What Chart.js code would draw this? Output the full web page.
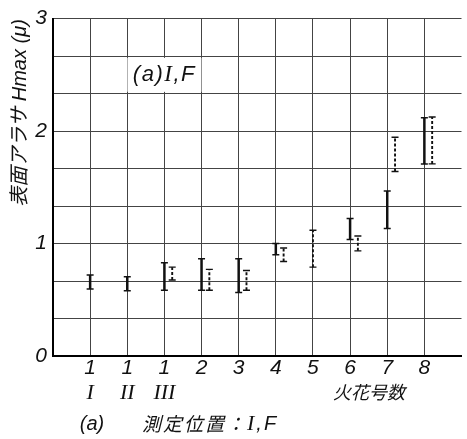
<!DOCTYPE html>
<html>
<head>
<meta charset="utf-8">
<script src="https://cdn.jsdelivr.net/npm/chart.js@4/dist/chart.umd.min.js"></script>
<style>
  html, body { margin: 0; padding: 0; background: #fff; }
  canvas { display: block; }
</style>
</head>
<body>
<canvas id="c" width="467" height="439"></canvas>
<script>
// Spark number categories and measuring position (second label line)
const sparkNumbers = ['1', '1', '1', '2', '3', '4', '5', '6', '7', '8'];
const positions    = ['I', 'II', 'III', '', '', '', '', '', '', ''];

// Hmax range (μ) — solid bars
const solidLow  = [0.595, 0.58, 0.585, 0.585, 0.565, 0.90, null, 1.035, 1.133, 1.708];
const solidHigh = [0.72, 0.705, 0.83, 0.864, 0.864, 1.00, null, 1.222, 1.466, 2.119];

// Hmax range (μ) — dashed bars
const dashLow  = [null, null, 0.676, 0.585, 0.585, 0.84, 0.79, 0.935, 1.64, 1.708];
const dashHigh = [null, null, 0.79, 0.77, 0.76, 0.96, 1.118, 1.067, 1.945, 2.125];

// Labelled values on the Hmax axis
const yTickLabels = ['0', '1', '2', '3'];

const DASH_SHIFT = 0.21;   // dashed bar sits just right of its solid partner
const SANS = "'Liberation Sans',sans-serif";
const SERIF = "'Liberation Serif','DejaVu Serif',serif";
const CJK = "'Noto Sans CJK JP',sans-serif";

// Turn low/high pairs into vertical segments separated by gaps
function rangeSegments(low, high, shift) {
  const pts = [];
  low.forEach((lo, i) => {
    if (lo == null) return;
    const x = i + 1 + shift(i);
    pts.push({ x, y: lo }, { x, y: high[i] }, { x, y: null });
  });
  return pts;
}

const solidData = rangeSegments(solidLow, solidHigh, () => 0);
const dashData  = rangeSegments(dashLow, dashHigh, i => (solidLow[i] == null ? 0 : DASH_SHIFT));

// Draw a run of text pieces, each with its own font, starting at x
function drawRuns(ctx, runs, x, y) {
  runs.forEach(([text, font]) => {
    ctx.font = font;
    ctx.fillText(text, x, y);
    x += ctx.measureText(text).width;
  });
  return x;
}
function runsWidth(ctx, runs) {
  return runs.reduce((w, [text, font]) => { ctx.font = font; return w + ctx.measureText(text).width; }, 0);
}

// Free text: roman position line, axis titles, panel tag and caption
const textLayer = {
  id: 'textLayer',
  afterDraw(chart) {
    const { ctx, scales: { x, y } } = chart;
    ctx.save();
    ctx.fillStyle = '#111';
    ctx.textBaseline = 'middle';

    const sans20 = 'italic 20px ' + SANS;
    const sans22 = 'italic 22px ' + SANS;
    const serif22 = 'italic 22px ' + SERIF;
    const serif23 = 'italic 23px ' + SERIF;

    // second line of the category labels
    ctx.textAlign = 'center';
    ctx.font = serif22;
    positions.forEach((p, i) => {
      if (p) ctx.fillText(p, x.getPixelForValue(i + 1), 393);
    });

    // panel tag on a white patch
    const tx = x.getPixelForValue(3), ty = y.getPixelForValue(2.5);
    ctx.fillStyle = '#fff';
    ctx.fillRect(tx - 37, ty - 17, 74, 34);
    ctx.fillStyle = '#111';
    ctx.textAlign = 'left';
    ctx.letterSpacing = '1.5px';
    const tag = [['(a)', sans22], ['I', serif23], [',', sans22], ['F', sans22]];
    drawRuns(ctx, tag, tx - runsWidth(ctx, tag) / 2, ty);
    ctx.letterSpacing = '0px';

    // vertical axis title
    ctx.save();
    ctx.translate(20, 113);
    ctx.rotate(-Math.PI / 2);
    ctx.textAlign = 'center';
    ctx.font = "italic 20px 'Liberation Sans','Noto Sans CJK JP',sans-serif";
    ctx.fillText('表面アラサ Hmax (μ)', 0, 0);
    ctx.restore();

    // horizontal axis title
    ctx.textAlign = 'center';
    ctx.font = 'italic 18px ' + CJK;
    ctx.fillText('火花号数', 369, 392);

    // caption
    ctx.font = sans20;
    ctx.fillText('(a)', 92, 424);
    ctx.textAlign = 'left';
    ctx.letterSpacing = '2px';
    drawRuns(ctx, [['測定位置：', 'italic 19px ' + CJK],
                   ['I', serif22], [',', sans20], ['F', sans20]], 142, 424);
    ctx.restore();
  }
};

function build() {
  new Chart(document.getElementById('c'), {
    type: 'scatter',
    data: {
      datasets: [
        {
          data: solidData,
          showLine: true,
          spanGaps: false,
          borderColor: '#111',
          borderWidth: 2.5,
          pointStyle: 'line',
          pointRadius: 3.5,
          pointBorderWidth: 1.5,
          pointBorderColor: '#111'
        },
        {
          data: dashData,
          showLine: true,
          spanGaps: false,
          borderColor: '#111',
          borderWidth: 1.9,
          borderDash: [3, 2],
          pointStyle: 'line',
          pointRadius: 3.5,
          pointBorderWidth: 1.4,
          pointBorderColor: '#111'
        }
      ]
    },
    options: {
      responsive: false,
      animation: false,
      layout: { padding: { top: 14, left: 0, right: 0, bottom: 0 } },
      plugins: { legend: { display: false }, tooltip: { enabled: false } },
      scales: {
        x: {
          type: 'linear',
          min: 0,
          max: 11,
          afterBuildTicks: s => {
            s.ticks = [{ value: 0 }].concat(sparkNumbers.map((_, i) => ({ value: i + 1 })));
          },
          afterFit: s => { s.height = 83; },
          grid: { color: '#444', lineWidth: 1, drawTicks: false },
          border: { color: '#000', width: 2 },
          ticks: {
            autoSkip: false,
            maxRotation: 0,
            padding: 0,
            color: '#111',
            font: { family: SANS, size: 21, style: 'italic', lineHeight: 1.17 },
            callback: v => {
              const i = Math.round(v) - 1;
              return (i < 0 || i >= sparkNumbers.length) ? '' : sparkNumbers[i];
            }
          }
        },
        y: {
          min: 0,
          max: 3,
          afterBuildTicks: s => {
            const t = [];
            yTickLabels.forEach((_, k) => {
              t.push({ value: k });
              if (k < yTickLabels.length - 1) { t.push({ value: k + 1 / 3 }, { value: k + 2 / 3 }); }
            });
            s.ticks = t;
          },
          afterFit: s => { s.width = 53; },
          grid: { color: '#444', lineWidth: 1, drawTicks: false },
          border: { color: '#000', width: 2 },
          ticks: {
            padding: 6,
            color: '#111',
            font: { family: SANS, size: 21, style: 'italic' },
            callback: v => {
              const r = Math.round(v);
              return Math.abs(v - r) < 1e-6 ? yTickLabels[r] : '';
            }
          }
        }
      }
    },
    plugins: [textLayer]
  });
}

Promise.all([
  document.fonts.load("italic 20px 'Noto Sans CJK JP'", '表面火花測定'),
  document.fonts.load("italic 22px 'Liberation Serif'", 'I')
]).catch(() => {}).then(build);
</script>
</body>
</html>
